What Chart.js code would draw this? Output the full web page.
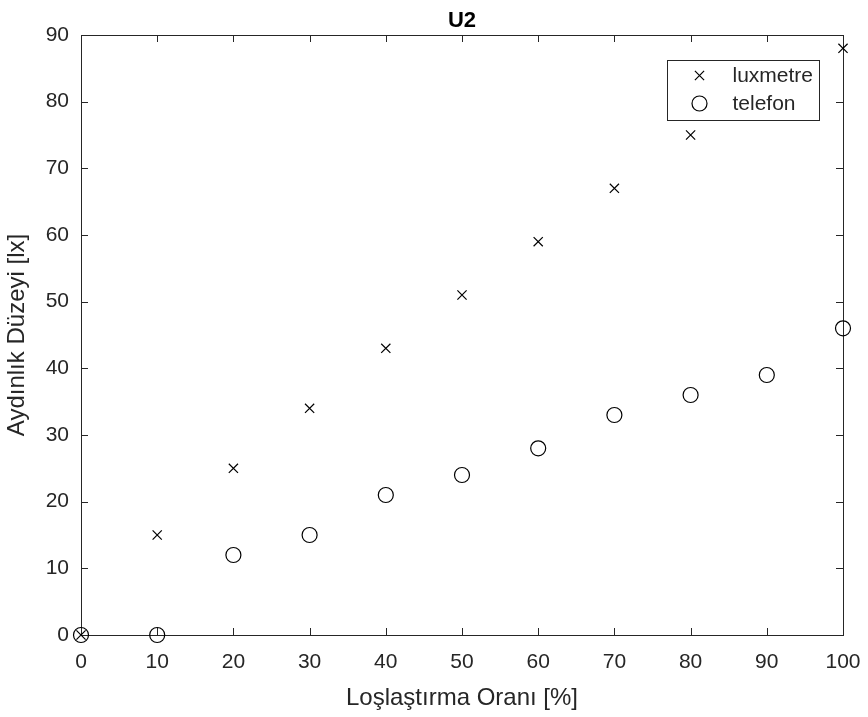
<!DOCTYPE html>
<html>
<head>
<meta charset="utf-8">
<title>U2</title>
<script src="https://cdn.jsdelivr.net/npm/chart.js@4"></script>
<style>
  body { margin: 0; background: #fff; }
  #wrap { width: 868px; height: 717px; }
</style>
</head>
<body>
<div id="wrap"><canvas id="u2"></canvas></div>
<script>
// Loşlaştırma oranı (%) ve ölçülen aydınlık düzeyleri (lx)
var oran = [0, 10, 20, 30, 40, 50, 60, 70, 80, 90, 100];
var luxmetre = [0, 15, 25, 34, 43, 51, 59, 67, 75, 82, 88];
var telefon = [0, 0, 12, 15, 21, 24, 28, 33, 36, 39, 46];
var seriler = ['luxmetre', 'telefon'];

var yazi = "'Liberation Sans', Arial, sans-serif";
var gri = '#262626';

function noktalar(vals) {
    return oran.map(function(x, i) {
        return { x: x, y: vals[i] };
    });
}

// MATLAB tarzi kutu, ice dogru tick cizgileri ve lejant
var cerceve = {
    id: 'cerceve',
    beforeDatasetsDraw: function(chart) {
        var c = chart.ctx, a = chart.chartArea;
        var sx = chart.scales.x, sy = chart.scales.y;
        var tl = 7;
        c.save();
        c.strokeStyle = gri;
        c.lineWidth = 1;
        c.beginPath();
        sx.ticks.forEach(function(t) {
            var px = Math.round(sx.getPixelForValue(t.value)) + 0.5;
            c.moveTo(px, a.bottom); c.lineTo(px, a.bottom - tl);
            c.moveTo(px, a.top); c.lineTo(px, a.top + tl);
        });
        sy.ticks.forEach(function(t) {
            var py = Math.round(sy.getPixelForValue(t.value)) + 0.5;
            c.moveTo(a.left, py); c.lineTo(a.left + tl, py);
            c.moveTo(a.right, py); c.lineTo(a.right - tl, py);
        });
        c.stroke();
        c.strokeRect(Math.round(a.left) + 0.5, Math.round(a.top) + 0.5,
            Math.round(a.right - a.left), Math.round(a.bottom - a.top));
        c.restore();
    },
    afterDatasetsDraw: function(chart) {
        var c = chart.ctx, a = chart.chartArea;
        var w = 152, h = 60;
        var bx = Math.round(a.right - 24 - w) + 0.5, by = Math.round(a.top + 25) + 0.5;
        c.save();
        c.fillStyle = '#fff';
        c.fillRect(bx, by, w, h);
        c.strokeStyle = gri;
        c.lineWidth = 1;
        c.strokeRect(bx, by, w, h);
        c.font = '21px ' + yazi;
        c.textBaseline = 'middle';
        c.textAlign = 'left';
        chart.data.datasets.forEach(function(ds, i) {
            var yy = by + 15 + i * 28;
            c.fillStyle = 'rgba(0,0,0,0)';
            c.strokeStyle = ds.borderColor;
            c.lineWidth = ds.borderWidth;
            Chart.helpers.drawPoint(c, {
                pointStyle: ds.pointStyle,
                radius: ds.pointRadius,
                borderWidth: ds.borderWidth,
                rotation: 0
            }, bx + 32, yy);
            c.fillStyle = gri;
            c.fillText(ds.label, bx + 65, yy + 1);
        });
        c.restore();
    }
};

var ctx = document.getElementById('u2').getContext('2d');
var config = {
    type: 'scatter',
    data: {
        datasets: [{
            label: seriler[0],
            data: noktalar(luxmetre),
            pointStyle: 'crossRot',
            pointRadius: 6.5,
            borderColor: '#000',
            backgroundColor: 'rgba(0,0,0,0)',
            borderWidth: 1.2,
            clip: false
        }, {
            label: seriler[1],
            data: noktalar(telefon),
            pointStyle: 'circle',
            pointRadius: 7.5,
            borderColor: '#000',
            backgroundColor: 'rgba(0,0,0,0)',
            borderWidth: 1.2,
            clip: false
        }]
    },
    options: {
        responsive: true,
        maintainAspectRatio: false,
        animation: false,
        layout: { padding: { top: 0, right: 25, left: 0, bottom: 0 } },
        plugins: {
            legend: { display: false },
            tooltip: { enabled: false },
            title: {
                display: true,
                fullSize: false,
                text: 'U2',
                color: '#000',
                font: { family: yazi, size: 22, weight: 'bold', lineHeight: 1.2 },
                padding: { top: 8, bottom: 0.6 }
            }
        },
        scales: {
            x: {
                type: 'linear',
                min: 0,
                max: 100,
                grid: { display: false, drawTicks: false },
                border: { display: false },
                ticks: { stepSize: 10, color: gri, padding: 15, font: { family: yazi, size: 21 } },
                title: {
                    display: true,
                    text: 'Loşlaştırma Oranı [%]',
                    color: gri,
                    font: { family: yazi, size: 24 },
                    padding: { top: 0, bottom: 4.5 }
                },
                afterFit: function(s) {
                    s.height = 82;
                    s.paddingLeft = 0;
                    s.paddingRight = 0;
                }
            },
            y: {
                type: 'linear',
                min: 0,
                max: 90,
                grid: { display: false, drawTicks: false },
                border: { display: false },
                ticks: { stepSize: 10, color: gri, padding: 12, font: { family: yazi, size: 21 } },
                title: {
                    display: true,
                    text: 'Aydınlık Düzeyi [lx]',
                    color: gri,
                    font: { family: yazi, size: 24 },
                    padding: { top: 3, bottom: 0 }
                },
                afterFit: function(s) {
                    s.width = 81;
                    s.paddingTop = 0;
                    s.paddingBottom = 0;
                }
            }
        }
    },
    plugins: [cerceve]
};

var chart = new Chart(ctx, config);
</script>
</body>
</html>
